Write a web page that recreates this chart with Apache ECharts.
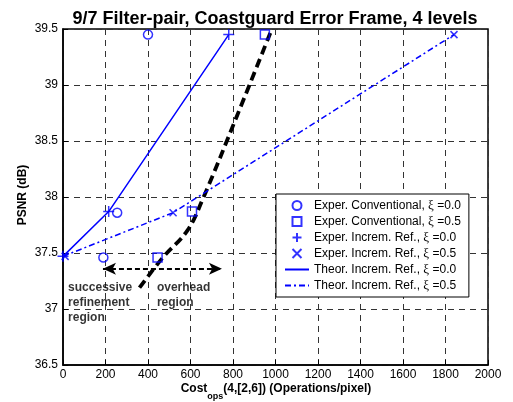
<!DOCTYPE html>
<html>
<head>
<meta charset="utf-8">
<script src="https://cdn.jsdelivr.net/npm/echarts@6/dist/echarts.min.js"></script>
<style>html,body{margin:0;padding:0;background:#fff}#c{width:513px;height:402px}</style>
</head>
<body>
<div id="c"></div>
<script>
// Tick labels / axis ranges
const xTicks = [0, 200, 400, 600, 800, 1000, 1200, 1400, 1600, 1800, 2000];
const yTicks = [36.5, 37, 37.5, 38, 38.5, 39, 39.5];
const xName = ['Cost', 'ops', '(4,[2,6]) (Operations/pixel)'];
const yName = 'PSNR (dB)';

// Experimental points
const convXi0X = [190, 255, 400];
const convXi0Y = [37.46, 37.86, 39.45];
const convXi5X = [445, 607, 950];
const convXi5Y = [37.46, 37.87, 39.45];
const incXi0X = [0, 215, 780];
const incXi0Y = [37.47, 37.87, 39.45];
const incXi5X = [10, 518, 1840];
const incXi5Y = [37.47, 37.86, 39.45];

// Theoretical curves
const thXi0X = [0, 215, 780];
const thXi0Y = [37.47, 37.87, 39.45];
const thXi5X = [0, 518, 1840];
const thXi5Y = [37.47, 37.86, 39.45];

// Boundary curve (black dashed)
const boundX = [360, 470, 585, 655, 820, 983];
const boundY = [37.19, 37.46, 37.70, 37.97, 38.73, 39.5];

// Region arrow
const arrowX = [188, 748];
const arrowY = [37.36, 37.36];

// Annotations
const annText = ['successive\nrefinement\nregion', 'overhead\nregion'];
const annX = [24, 442];
const annY = [37.26, 37.26];

const names = [
  'Exper. Conventional, ξ =0.0',
  'Exper. Conventional, ξ =0.5',
  'Exper. Increm. Ref., ξ =0.0',
  'Exper. Increm. Ref., ξ =0.5',
  'Theor. Increm. Ref., ξ =0.0',
  'Theor. Increm. Ref., ξ =0.5'
];

const zip = (xs, ys) => xs.map((x, i) => [x, ys[i]]);
const BLUE = '#0000ff';
const FONT = 'Liberation Sans, Arial, sans-serif';
const plusPath = 'path://M5,0L5,10M0,5L10,5';
const crossPath = 'path://M0,0L10,10M10,0L0,10';
const squarePath = 'path://M0,0L10,0L10,10L0,10Z';

const markerStyle = { color: 'rgba(0,0,0,0)', borderColor: BLUE, borderWidth: 1.5 };
const hideSym = { color: 'rgba(0,0,0,0)', borderWidth: 0, opacity: 0 };

const chart = echarts.init(document.getElementById('c'), null, { renderer: 'canvas' });
chart.setOption({
  animation: false,
  backgroundColor: '#fff',
  title: {
    text: '9/7 Filter-pair, Coastguard Error Frame, 4 levels',
    left: 270, top: 5, textAlign: 'center',
    textStyle: { fontFamily: FONT, fontSize: 18, fontWeight: 'bold', color: '#000' }
  },
  grid: {
    left: 63, right: 25, top: 29, bottom: 37, containLabel: false, outerBoundsMode: 'none',
    show: true, borderColor: '#000', borderWidth: 1.5, backgroundColor: 'transparent'
  },
  graphic: [
    {
      type: 'text', x: 23, y: 195, rotation: Math.PI / 2, silent: true,
      style: { text: yName, fill: '#000', font: 'bold 12px "Liberation Sans", Arial, sans-serif', align: 'center', verticalAlign: 'middle' }
    },
    {
      type: 'text', x: 276, y: 389, silent: true,
      style: {
        text: '{b|' + xName[0] + '}{s|' + xName[1] + '}{b|' + xName[2] + '}',
        align: 'center', verticalAlign: 'middle',
        rich: {
          b: { fill: '#000', fontFamily: FONT, fontSize: 12, fontWeight: 'bold', lineHeight: 12, verticalAlign: 'middle' },
          s: { fill: '#000', fontFamily: FONT, fontSize: 9, fontWeight: 'bold', lineHeight: 12, padding: [16, 0, 0, 0] }
        }
      }
    }
  ],
  legend: {
    orient: 'vertical', left: 276, top: 194,
    padding: [5, 8, 5, 8], itemGap: 3, itemWidth: 24, itemHeight: 9,
    backgroundColor: '#fff', borderColor: '#000', borderWidth: 1,
    data: [
      { name: names[0] }, { name: names[1] }, { name: names[2] }, { name: names[3] },
      { name: names[4], itemStyle: hideSym }, { name: names[5], itemStyle: hideSym }
    ],
    formatter: n => { const p = n.split('ξ'); return '{t|' + p[0] + '}{x|ξ}{t|' + p[1] + '}'; },
    textStyle: {
      fontFamily: FONT, fontSize: 12, color: '#000',
      rich: { t: { fontFamily: FONT, fontSize: 12, color: '#000' }, x: { fontFamily: 'Liberation Serif, serif', fontSize: 13, color: '#000' } }
    }
  },
  xAxis: {
    type: 'value', min: xTicks[0], max: xTicks[xTicks.length - 1], interval: 200,
    axisLine: { show: true, lineStyle: { color: '#000', width: 1.5 } },
    axisTick: { show: true, inside: true, length: 5, lineStyle: { color: '#000' } },
    axisLabel: { fontFamily: FONT, fontSize: 12, color: '#000', margin: 4, formatter: v => String(v) },
    splitLine: { show: true, lineStyle: { color: '#333', width: 1, type: [6, 5] } }
  },
  yAxis: {
    type: 'value', min: yTicks[0], max: yTicks[yTicks.length - 1], interval: 0.5,
    axisLine: { show: true, lineStyle: { color: '#000', width: 1.5 } },
    axisTick: { show: true, inside: true, length: 5, lineStyle: { color: '#000' } },
    axisLabel: { fontFamily: FONT, fontSize: 12, color: '#000', margin: 5 },
    splitLine: { show: true, lineStyle: { color: '#333', width: 1, type: [6, 5] } }
  },
  series: [
    {
      name: 'boundary', type: 'line', data: zip(boundX, boundY), smooth: 0.4,
      symbol: 'none', lineStyle: { color: '#000', width: 3.8, type: [9, 5] }, z: 3,
      markLine: {
        silent: true, symbol: ['arrow', 'arrow'], symbolSize: [9, 13],
        label: { show: false },
        lineStyle: { color: '#000', width: 2, type: [5, 3] },
        data: [[{ coord: [arrowX[0], arrowY[0]] }, { coord: [arrowX[1], arrowY[1]] }]]
      }
    },
    {
      name: names[4], type: 'line', data: zip(thXi0X, thXi0Y), symbol: 'none',
      lineStyle: { color: BLUE, width: 1.5, type: 'solid' }, itemStyle: { color: BLUE }, z: 4
    },
    {
      name: names[5], type: 'line', data: zip(thXi5X, thXi5Y), symbol: 'none',
      lineStyle: { color: BLUE, width: 1.5, type: [6, 3, 2, 3] }, itemStyle: { color: BLUE }, z: 4
    },
    { name: names[0], type: 'scatter', data: zip(convXi0X, convXi0Y), symbol: 'circle', symbolSize: 9, symbolKeepAspect: true, itemStyle: markerStyle, z: 5 },
    { name: names[1], type: 'scatter', data: zip(convXi5X, convXi5Y), symbol: squarePath, symbolSize: 9, symbolKeepAspect: true, itemStyle: markerStyle, z: 5 },
    { name: names[2], type: 'scatter', data: zip(incXi0X, incXi0Y), symbol: plusPath, symbolSize: 11, symbolKeepAspect: true, itemStyle: markerStyle, z: 5 },
    { name: names[3], type: 'scatter', data: zip(incXi5X, incXi5Y), symbol: crossPath, symbolSize: 7, symbolKeepAspect: true, itemStyle: markerStyle, z: 5 },
    {
      name: 'annotations', type: 'scatter', symbolSize: 0, silent: true, z: 6,
      data: annText.map((t, i) => ({ name: t, value: [annX[i], annY[i]] })),
      label: {
        show: true, formatter: p => p.name, position: [0, 0], align: 'left', verticalAlign: 'top',
        fontFamily: FONT, fontSize: 12, fontWeight: 'bold', color: '#000', lineHeight: 15
      }
    }
  ]
});
</script>
</body>
</html>
